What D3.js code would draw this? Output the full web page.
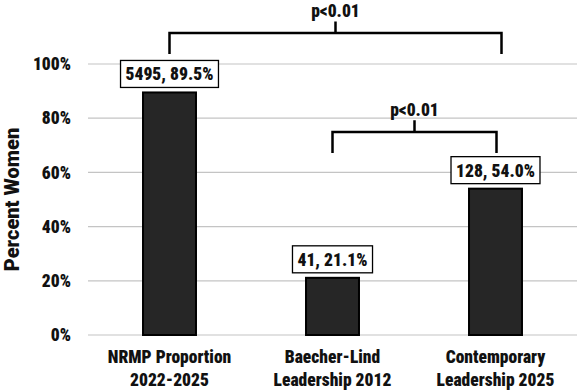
<!DOCTYPE html>
<html><head><meta charset="utf-8">
<script src="https://cdn.jsdelivr.net/npm/d3@7"></script>
<style>
html,body{margin:0;padding:0;background:#fff;}
text{font-family:Roboto,"DejaVu Sans Condensed",sans-serif;font-weight:900;fill:#111;font-stretch:condensed;}
</style></head>
<body>
<svg id="chart" width="581" height="391"></svg>
<script>
const categories = [["NRMP Proportion","2022-2025"],["Baecher-Lind","Leadership 2012"],["Contemporary","Leadership 2025"]];
const percents = [89.5, 21.1, 54.0];
const counts = [5495, 41, 128];
const yTicks = [0, 20, 40, 60, 80, 100];
const compFrom = [0, 1];
const compTo = [2, 2];
const compLevel = [111.4, 74.9];
const compLabel = ["p<0.01", "p<0.01"];

const svg = d3.select("#chart");
const margin = {left: 88, right: 4, top: 64, bottom: 56};
const W = 581, H = 391;
const FS = "17.5px";
const x = d3.scaleBand().domain(d3.range(categories.length)).range([margin.left, W - margin.right]).paddingInner(0.675).paddingOuter(0.3375);
const y = d3.scaleLinear().domain([0, 100]).range([H - margin.bottom, margin.top]);

// gridlines
svg.append("g").selectAll("line").data(yTicks).join("line")
  .attr("x1", margin.left).attr("x2", W - margin.right)
  .attr("y1", d => y(d)).attr("y2", d => y(d))
  .attr("stroke", "#c4c4c4").attr("stroke-width", 1.2);

// y axis
const yAxis = d3.axisLeft(y).tickValues(yTicks).tickFormat(d => d + "%").tickSize(0).tickPadding(17);
const ya = svg.append("g").attr("transform", `translate(${margin.left},0)`).call(yAxis);
ya.select(".domain").remove();
ya.attr("font-family", null).attr("font-size", null);
ya.selectAll("text").style("font-size", FS).attr("fill", "#111");

// y title
svg.append("text").attr("transform", `translate(19,${(y(0)+y(100))/2}) rotate(-90)`)
  .attr("text-anchor", "middle").style("font-size", "20px").style("font-stretch", "normal").text("Percent Women");

// bars
svg.append("g").selectAll("rect").data(percents).join("rect")
  .attr("x", (d, i) => x(i)).attr("width", x.bandwidth())
  .attr("y", d => y(d)).attr("height", d => y(0) - y(d))
  .attr("fill", "#262626").attr("stroke", "#000").attr("stroke-width", 2);

// value labels
const lab = svg.append("g").selectAll("g").data(percents).join("g");
lab.each(function(d, i) {
  const g = d3.select(this);
  const cx = x(i) + x.bandwidth() / 2;
  const t = g.append("text").attr("x", cx).attr("y", y(d) - 12).attr("text-anchor", "middle")
    .style("font-size", FS).text(`${counts[i]}, ${d.toFixed(1)}%`);
  const bb = t.node().getBBox();
  g.insert("rect", "text").attr("x", bb.x - 5).attr("y", y(d) - 32).attr("width", bb.width + 10).attr("height", 27)
    .attr("fill", "#fff").attr("stroke", "#000").attr("stroke-width", 1.3);
});

// comparison brackets
compLevel.forEach((lv, k) => {
  const x1 = x(compFrom[k]) + x.bandwidth() / 2;
  const x2 = x(compTo[k]) + x.bandwidth() / 2 + (k === 0 ? 6 : 1);
  const yl = y(lv), yEnd = y(lv - 7.7), yTop = y(lv + 4.3);
  const xm = (x1 + x2) / 2;
  svg.append("path").attr("d", `M${x1},${yEnd}V${yl}H${x2}V${yEnd}M${xm},${yl}V${yTop}`)
    .attr("fill", "none").attr("stroke", "#000").attr("stroke-width", 2.5);
  svg.append("text").attr("x", xm).attr("y", yTop - 4).attr("text-anchor", "middle")
    .style("font-size", FS).text(compLabel[k]);
});

// x labels
categories.forEach((lines, i) => {
  const cx = x(i) + x.bandwidth() / 2;
  const t = svg.append("text").attr("text-anchor", "middle").style("font-size", FS);
  lines.forEach((ln, j) => t.append("tspan").attr("x", cx).attr("y", 363 + j * 23).text(ln));
});
</script>
</body></html>
